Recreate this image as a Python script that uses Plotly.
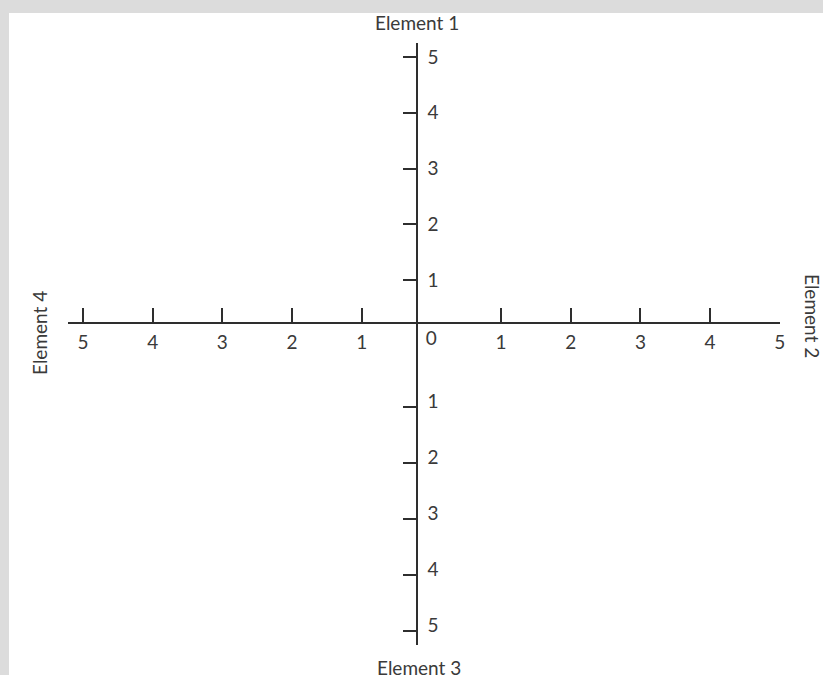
import plotly.graph_objects as go

# four element axes, each marked 1..5 from the centre out
element_1_ticks = [1, 2, 3, 4, 5]   # up
element_2_ticks = [1, 2, 3, 4, 5]   # right
element_3_ticks = [1, 2, 3, 4, 5]   # down
element_4_ticks = [1, 2, 3, 4, 5]   # left
centre_label = ["0"]
axis_names = ["Element 1", "Element 2", "Element 3", "Element 4"]

W, H = 823, 675
ML, MT = 9, 13
PW, PH = W - ML, H - MT


def fx(px):
    return (px - ML) / PW


def fy(py):
    return (H - py) / PH


line_col = "#2e2e2e"
txt_col = "#3a3a3a"
font = dict(family="Lato", size=19, color=txt_col)

# horizontal axis: element 4 to the left, element 2 to the right
x_vals = [-v for v in element_4_ticks[::-1]] + element_2_ticks
x_text = [str(abs(v)) for v in x_vals]

fig = go.Figure()
fig.add_trace(go.Scatter(x=[], y=[], xaxis="x", yaxis="y", showlegend=False))
fig.add_trace(go.Scatter(x=[], y=[], xaxis="x", yaxis="y2", showlegend=False))
fig.add_trace(go.Scatter(x=[], y=[], xaxis="x2", yaxis="y", showlegend=False))

common = dict(showgrid=False, zeroline=False, showline=True, linecolor=line_col,
              linewidth=1.5, ticks="inside", tickcolor=line_col, tickwidth=1.5,
              tickfont=font, fixedrange=True, automargin=False)

x_dom = [fx(68), fx(780)]
x_rng = [-5.215, 5.003]
axis_y = fy(323)
axis_x = fx(417)

fig.update_layout(
    template="none",
    autosize=False,
    width=W, height=H,
    margin=dict(l=ML, r=0, t=MT, b=0, pad=0, autoexpand=False),
    paper_bgcolor="#dcdcdc",
    plot_bgcolor="white",
    xaxis=dict(domain=x_dom, range=x_rng, anchor="free", position=axis_y,
               tickvals=x_vals, ticktext=x_text, ticklen=14,
               ticklabelstandoff=2, **common),
    xaxis2=dict(domain=x_dom, range=x_rng, anchor="free", position=axis_y,
                overlaying="x", showgrid=False, zeroline=False, showline=False,
                ticks="", tickvals=[0], ticktext=centre_label, tickfont=font,
                ticklabelstandoff=2, automargin=False),
    yaxis=dict(domain=[fy(323), fy(43)], range=[0.229, 5.251], anchor="free",
               position=axis_x, side="right", tickvals=element_1_ticks,
               ticklen=13, ticklabelstandoff=6, **common),
    yaxis2=dict(domain=[fy(645), fy(323)], range=[5.25, -0.5], anchor="free",
                position=axis_x, side="right", tickvals=element_3_ticks,
                ticklen=13, ticklabelstandoff=6, ticklabelshift=6, **common),
)

# white panel over the whole plot area
fig.add_shape(type="rect", xref="paper", yref="paper", x0=0, x1=1, y0=0, y1=1,
              fillcolor="white", line_width=0, layer="below")

# axis names at the ends of each arm
labels = [
    (axis_names[0], 417, 23, 0),
    (axis_names[1], 813, 316, 90),
    (axis_names[2], 419, 667, 0),
    (axis_names[3], 39, 333, -90),
]
for text, px, py, ang in labels:
    fig.add_annotation(text=text, x=fx(px), y=fy(py), xref="paper", yref="paper",
                       showarrow=False, textangle=ang, font=font,
                       xanchor="center", yanchor="middle")

fig.write_html("out.html", config={"displayModeBar": False, "responsive": False},
               post_script="document.body.style.margin='0';")
